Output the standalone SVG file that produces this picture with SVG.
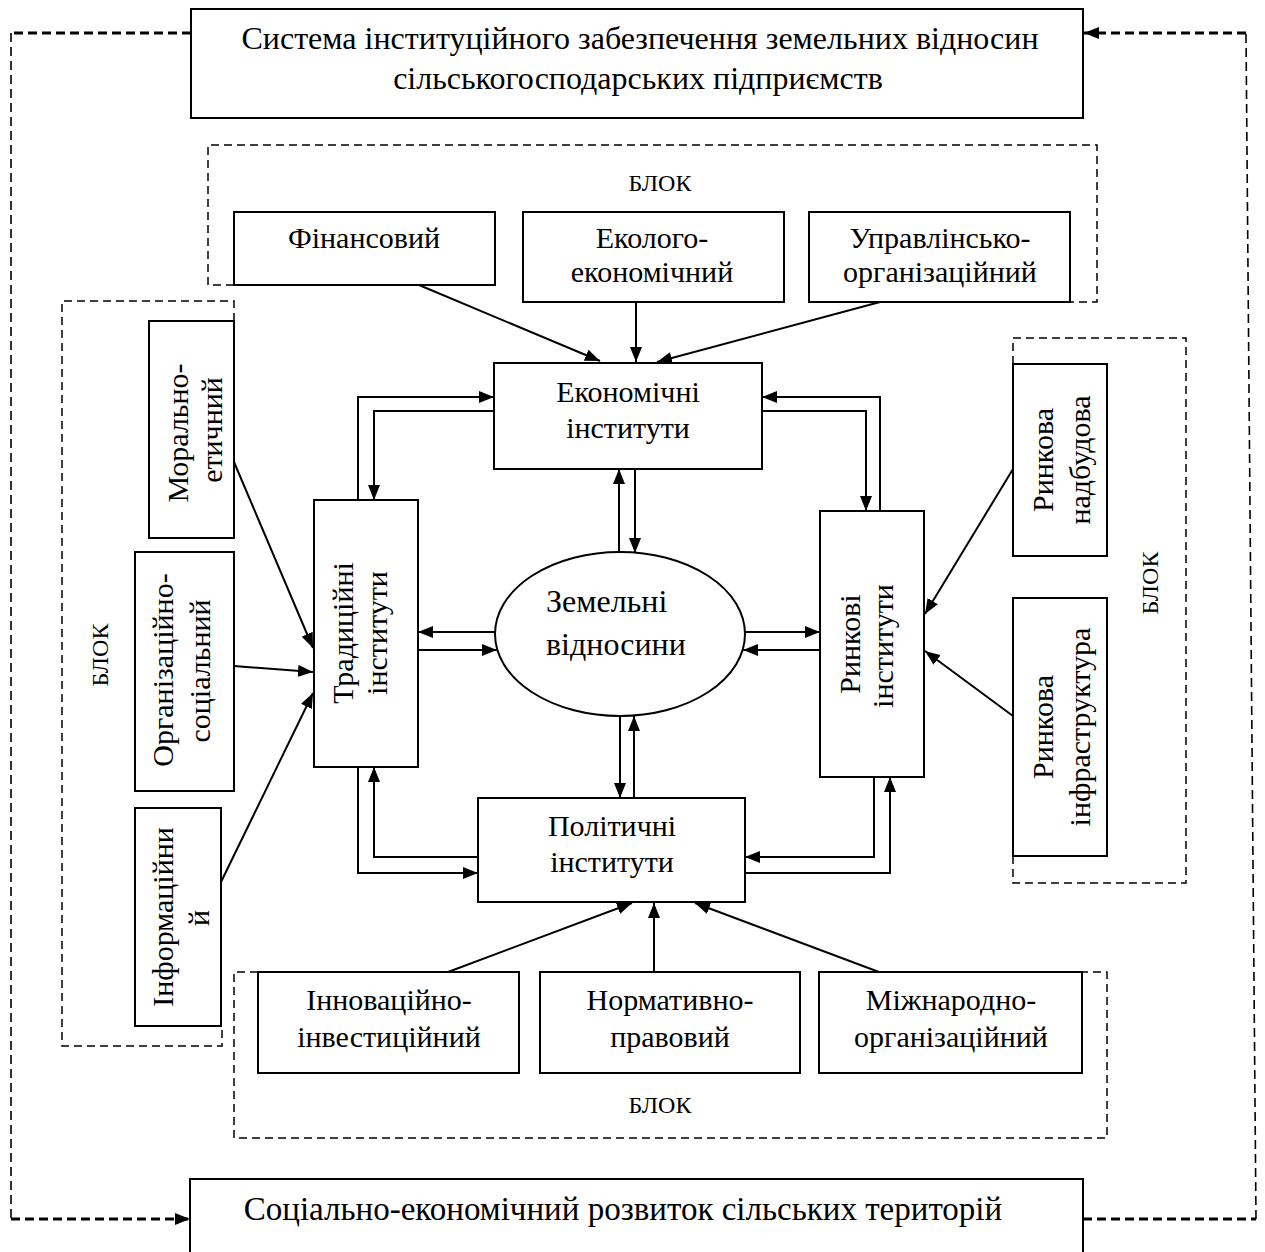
<svg xmlns="http://www.w3.org/2000/svg" width="1265" height="1252" viewBox="0 0 1265 1252">
<style>
.box{fill:#fff;stroke:#000;stroke-width:2}
.t{font-family:"Liberation Serif","Times New Roman",serif;font-size:30px;fill:#000;text-anchor:middle}
.big{font-size:32px}
.bot{font-size:33px}
.mid{font-size:32px}
.blk{font-size:24px}
.ln{fill:none;stroke:#000;stroke-width:2}
.frame{fill:none;stroke:#000;stroke-width:1.5;stroke-dasharray:8,5}
.dh{fill:none;stroke:#000;stroke-width:3;stroke-dasharray:9,5}
.dv{fill:none;stroke:#000;stroke-width:1.6;stroke-dasharray:9,5}
</style>
<defs>
<marker id="a" markerUnits="userSpaceOnUse" markerWidth="15" markerHeight="12" refX="15" refY="6" orient="auto"><path d="M0,0 L15,6 L0,12 z" fill="#000"/></marker>
</defs>
<rect width="1265" height="1252" fill="#fff"/>
<g id="frames">
<path class="frame" d="M234,285 H208 V145 H1097 V302 H1070"/>
<path class="frame" d="M234,321 V301 H62 V1046 H222 V1026"/>
<path class="frame" d="M1013,364 V338 H1186 V883 H1013 V856"/>
<path class="frame" d="M258,972 H234 V1138 H1107 V972 H1082"/>
<text class="t blk" x="660" y="191">БЛОК</text>
<text class="t blk" transform="translate(108,655) rotate(-90)">БЛОК</text>
<text class="t blk" transform="translate(1158,583) rotate(-90)">БЛОК</text>
<text class="t blk" x="660" y="1113">БЛОК</text>
</g>
<g id="connectors">
<path class="dh" d="M191,33 H11"/>
<path class="dv" d="M11,33 V1219"/>
<path class="dh" d="M11,1219 H190" marker-end="url(#a)"/>
<path class="dh" d="M1083,1219 H1256"/>
<path class="dv" d="M1256,1219 L1246,33"/>
<path class="dh" d="M1246,33 H1084" marker-end="url(#a)"/>
<path class="ln" d="M419,285 L600,361" marker-end="url(#a)"/>
<path class="ln" d="M636,302 V362" marker-end="url(#a)"/>
<path class="ln" d="M880,302 L657,362" marker-end="url(#a)"/>
<path class="ln" d="M358,500 V397 H494" marker-end="url(#a)"/>
<path class="ln" d="M494,411 H374 V500" marker-end="url(#a)"/>
<path class="ln" d="M880,511 V397 H762" marker-end="url(#a)"/>
<path class="ln" d="M762,411 H866 V511" marker-end="url(#a)"/>
<path class="ln" d="M619,552 V469" marker-end="url(#a)"/>
<path class="ln" d="M635,469 V553" marker-end="url(#a)"/>
<path class="ln" d="M495,632 H418" marker-end="url(#a)"/>
<path class="ln" d="M418,650 H497" marker-end="url(#a)"/>
<path class="ln" d="M745,632 H820" marker-end="url(#a)"/>
<path class="ln" d="M820,650 H743" marker-end="url(#a)"/>
<path class="ln" d="M620,716 V798" marker-end="url(#a)"/>
<path class="ln" d="M634,798 V716" marker-end="url(#a)"/>
<path class="ln" d="M478,857 H374 V767" marker-end="url(#a)"/>
<path class="ln" d="M358,767 V873 H478" marker-end="url(#a)"/>
<path class="ln" d="M874,777 V857 H745" marker-end="url(#a)"/>
<path class="ln" d="M745,873 H890 V777" marker-end="url(#a)"/>
<path class="ln" d="M448,972 L632,903" marker-end="url(#a)"/>
<path class="ln" d="M654,972 V903" marker-end="url(#a)"/>
<path class="ln" d="M879,972 L695,903" marker-end="url(#a)"/>
<path class="ln" d="M234,462 L313,648" marker-end="url(#a)"/>
<path class="ln" d="M234,666 L313,672" marker-end="url(#a)"/>
<path class="ln" d="M221,882 L313,693" marker-end="url(#a)"/>
<path class="ln" d="M1013,469 L925,614" marker-end="url(#a)"/>
<path class="ln" d="M1013,716 L925,651" marker-end="url(#a)"/>
</g>
<g id="top">
<rect class="box" x="191" y="9" width="892" height="109"/>
<text class="t big" x="640" y="49">Система інституційного забезпечення земельних відносин</text>
<text class="t big" x="638" y="89">сільськогосподарських підприємств</text>
</g>
<g id="bottom">
<rect class="box" x="190" y="1179" width="893" height="80"/>
<text class="t bot" x="623" y="1220">Соціально-економічний розвиток сільських територій</text>
</g>
<g id="fin"><rect class="box" x="234" y="212" width="261" height="73"/><text class="t" x="364" y="248">Фінансовий</text></g>
<g id="eco"><rect class="box" x="523" y="212" width="261" height="90"/><text class="t" x="652" y="248">Еколого-</text><text class="t" x="652" y="282">економічний</text></g>
<g id="upr"><rect class="box" x="809" y="212" width="261" height="90"/><text class="t" x="940" y="248">Управлінсько-</text><text class="t" x="940" y="282">організаційний</text></g>
<g id="econ"><rect class="box" x="494" y="363" width="268" height="106"/><text class="t" x="628" y="402">Економічні</text><text class="t" x="628" y="438">інститути</text></g>
<g id="land"><ellipse class="box" cx="620" cy="634" rx="125" ry="82"/><text class="t mid" x="546" y="612" style="text-anchor:start">Земельні</text><text class="t mid" x="546" y="655" style="text-anchor:start">відносини</text></g>
<g id="trad"><rect class="box" x="314" y="500" width="104" height="267"/><text class="t" transform="translate(353,633) rotate(-90)">Традиційні</text><text class="t" transform="translate(387,633) rotate(-90)">інститути</text></g>
<g id="market"><rect class="box" x="820" y="511" width="104" height="266"/><text class="t" transform="translate(860,644) rotate(-90)">Ринкові</text><text class="t" transform="translate(893,646) rotate(-90)">інститути</text></g>
<g id="pol"><rect class="box" x="478" y="798" width="267" height="104"/><text class="t" x="612" y="836">Політичні</text><text class="t" x="612" y="872">інститути</text></g>
<g id="moral"><rect class="box" x="149" y="321" width="85" height="217"/><text class="t" transform="translate(188,433) rotate(-90)">Морально-</text><text class="t" transform="translate(222,430) rotate(-90)">етичний</text></g>
<g id="org"><rect class="box" x="135" y="552" width="99" height="239"/><text class="t" transform="translate(173,670) rotate(-90)">Організаційно-</text><text class="t" transform="translate(210,671) rotate(-90)">соціальний</text></g>
<g id="inf"><rect class="box" x="135" y="808" width="86" height="218"/><text class="t" transform="translate(173,917) rotate(-90)">Інформаційни</text><text class="t" transform="translate(209,918) rotate(-90)">й</text></g>
<g id="nadb"><rect class="box" x="1013" y="364" width="94" height="192"/><text class="t" transform="translate(1053,460) rotate(-90)">Ринкова</text><text class="t" transform="translate(1090,460) rotate(-90)">надбудова</text></g>
<g id="infr"><rect class="box" x="1013" y="598" width="94" height="258"/><text class="t" transform="translate(1053,727) rotate(-90)">Ринкова</text><text class="t" transform="translate(1090,727) rotate(-90)">інфраструктура</text></g>
<g id="inn"><rect class="box" x="258" y="972" width="261" height="101"/><text class="t" x="389" y="1010">Інноваційно-</text><text class="t" x="389" y="1047">інвестиційний</text></g>
<g id="norm"><rect class="box" x="540" y="972" width="260" height="101"/><text class="t" x="670" y="1010">Нормативно-</text><text class="t" x="670" y="1047">правовий</text></g>
<g id="mizh"><rect class="box" x="819" y="972" width="263" height="101"/><text class="t" x="951" y="1010">Міжнародно-</text><text class="t" x="951" y="1047">організаційний</text></g>
</svg>
